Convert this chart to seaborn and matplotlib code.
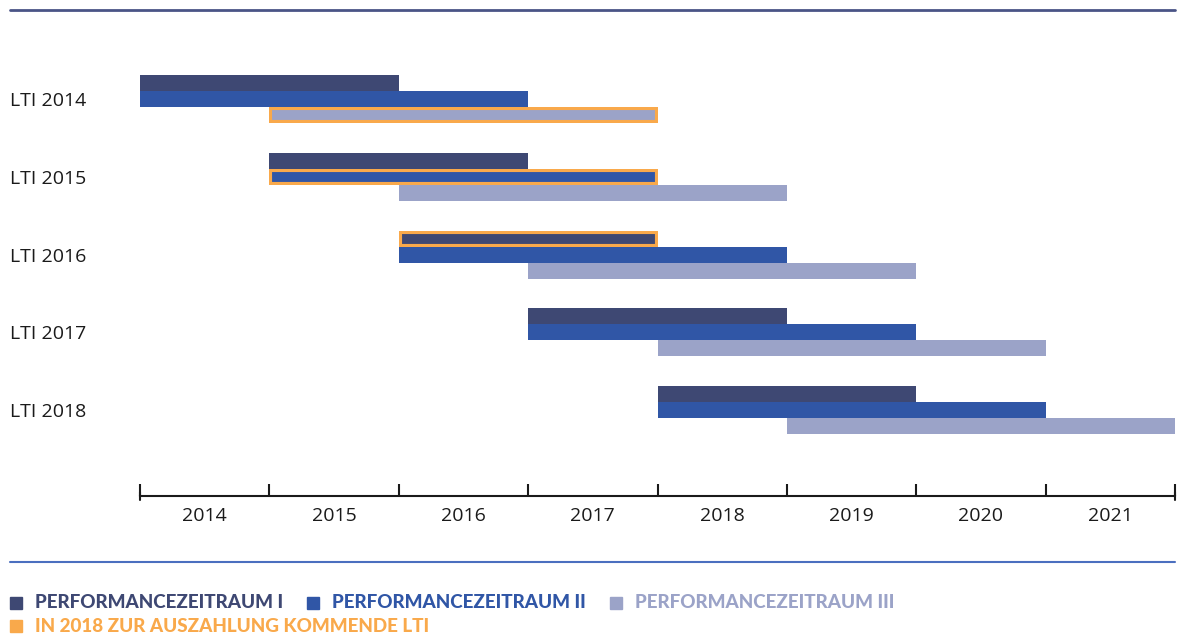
"""
LTI performance periods - Gantt style chart
"""

import matplotlib
matplotlib.use("Agg")
import matplotlib.pyplot as plt
from matplotlib.patches import Rectangle
from matplotlib.lines import Line2D
import pandas as pd
import seaborn as sns

# ---- data -------------------------------------------------------------
lti_labels = ["LTI 2014", "LTI 2015", "LTI 2016", "LTI 2017", "LTI 2018"]
p1_start = [2014, 2015, 2016, 2017, 2018]
p1_end = [2016, 2017, 2018, 2019, 2020]
p2_start = [2014, 2015, 2016, 2017, 2018]
p2_end = [2017, 2018, 2019, 2020, 2021]
p3_start = [2015, 2016, 2017, 2018, 2019]
p3_end = [2018, 2019, 2020, 2021, 2022]
# (row, period) paid out in 2018
payout = [(0, "III"), (1, "II"), (2, "I")]
years = [2014, 2015, 2016, 2017, 2018, 2019, 2020, 2021]

period_names = ["PERFORMANCEZEITRAUM I", "PERFORMANCEZEITRAUM II", "PERFORMANCEZEITRAUM III"]
payout_name = "IN 2018 ZUR AUSZAHLUNG KOMMENDE LTI"

colors = {"I": "#3e4873", "II": "#3056a6", "III": "#9ba3c8"}
orange = "#f9a94b"

rows = []
for i, lab in enumerate(lti_labels):
    rows.append((lab, i, "I", p1_start[i], p1_end[i]))
    rows.append((lab, i, "II", p2_start[i], p2_end[i]))
    rows.append((lab, i, "III", p3_start[i], p3_end[i]))
df = pd.DataFrame(rows, columns=["lti", "row", "period", "start", "end"])

# ---- style ------------------------------------------------------------
sns.set_theme(style="white")
plt.rcParams["font.family"] = ["Open Sans", "DejaVu Sans"]

W, H = 1178, 636
fig = plt.figure(figsize=(W / 100, H / 100), dpi=100)

row_px = 77.75
bar_h = 16 / row_px
top_px, axis_px = 40, 496
first_px, last_px = 99, 410
ax = fig.add_axes([140 / W, 1 - axis_px / H, 1035 / W, (axis_px - top_px) / H])

offsets = {"I": -bar_h, "II": 0.0, "III": bar_h}
for _, r in df.iterrows():
    hl = (r["row"], r["period"]) in payout
    bars = ax.barh(r["row"] + offsets[r["period"]], r["end"] - r["start"], left=r["start"],
                   height=bar_h, color=colors[r["period"]],
                   edgecolor=orange if hl else "none", linewidth=4.4 if hl else 0)
    if hl:
        # keep only the inner half of the outline
        for p in bars:
            p.set_clip_path(p)

ax.set_xlim(years[0], years[-1] + 1)
ax.set_ylim(len(lti_labels) - 1 + (axis_px - last_px) / row_px, -(first_px - top_px) / row_px)

# x axis: boundary ticks, labels centred in each year
ax.set_xticks(years + [years[-1] + 1])
ax.set_xticklabels([])
ax.set_xticks([y + 0.5 for y in years], minor=True)
ax.set_xticklabels([str(y) for y in years], minor=True, fontsize=14, color="#1a1a1a")
ax.tick_params(axis="x", which="major", direction="in", length=9, width=1.5,
               color="#1a1a1a", bottom=True)
ax.tick_params(axis="x", which="minor", length=0, pad=8)
for xe in (years[0], years[-1] + 1):
    ax.plot([xe, xe], [-0.009, 0.009], transform=ax.get_xaxis_transform(),
            color="#1a1a1a", lw=1.5, clip_on=False)

# y axis: labels flush left
ax.set_yticks(range(len(lti_labels)))
ax.set_yticklabels(lti_labels, fontsize=14, color="#1a1a1a", ha="left", va="center_baseline")
ax.tick_params(axis="y", length=0, pad=130 * 72 / 100)

sns.despine(ax=ax, left=True, top=True, right=True)
ax.spines["bottom"].set_color("#1a1a1a")
ax.spines["bottom"].set_linewidth(1.5)
ax.grid(False)

# frame lines
fig.add_artist(Line2D([10 / W, 1175 / W], [1 - 10 / H] * 2, color="#4a5486", lw=2))
fig.add_artist(Line2D([10 / W, 1175 / W], [1 - 562 / H] * 2, color="#4b6fbf", lw=1.5))

# legend
legend_items = [
    (10, 603, colors["I"], period_names[0]),
    (307, 603, colors["II"], period_names[1]),
    (610, 603, colors["III"], period_names[2]),
    (10, 626, orange, payout_name),
]
for x, y, c, txt in legend_items:
    fig.add_artist(Rectangle((x / W, 1 - (y + 6) / H), 12 / W, 12 / H,
                             transform=fig.transFigure, color=c))
    fig.text((x + 25) / W, 1 - y / H, txt, color=c, fontsize=13.6, fontweight="black",
             family=["Lato", "DejaVu Sans"], va="center", ha="left")

fig.savefig("out.png", dpi=100)
